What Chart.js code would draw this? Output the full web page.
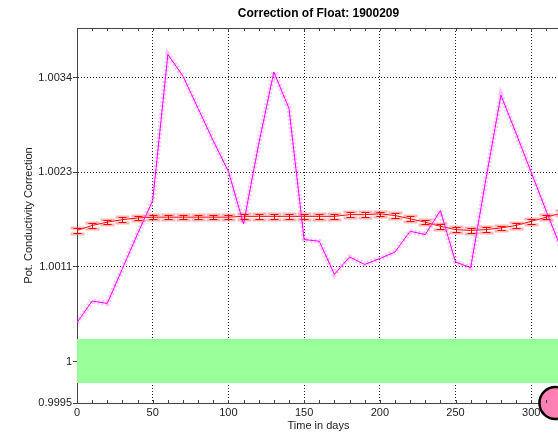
<!DOCTYPE html>
<html lang="en">
<head>
    <meta charset="UTF-8">
    <title>Correction of Float: 1900209</title>
    <script src="https://cdn.jsdelivr.net/npm/chart.js"></script>
    <style>
        html, body { margin: 0; padding: 0; background: #fff; overflow: hidden; }
        #chart { display: block; }
    </style>
</head>
<body>
    <canvas id="chart" width="560" height="435"></canvas>
    <script>
        // profile times (days since deployment)
        const days = [0, 10, 20, 30, 40, 50, 60, 70, 80, 90, 100, 110, 120, 130, 140, 150, 160,
                      170, 180, 190, 200, 210, 220, 230, 240, 250, 260, 270, 280, 290, 300, 310, 320];

        // magenta: correction per profile
        const potCorrection = [1.00047, 1.00073, 1.00070, 1.00112, 1.00154, 1.00194, 1.00370, 1.00344,
                               1.00305, 1.00266, 1.00229, 1.00166, 1.00262, 1.00349, 1.00305, 1.00147,
                               1.00145, 1.00105, 1.00126, 1.00117, 1.00124, 1.00132, 1.00157, 1.00153,
                               1.00182, 1.00120, 1.00113, 1.00219, 1.00321, 1.00275, 1.00228, 1.00181,
                               1.00135];

        // red: fitted correction with its error
        const fitCorrection = [1.00158, 1.00164, 1.00168, 1.00171, 1.00173, 1.00174, 1.00174, 1.00174,
                               1.00174, 1.00174, 1.00174, 1.00175, 1.00175, 1.00175, 1.00175, 1.00175,
                               1.00175, 1.00175, 1.00177, 1.00177, 1.00178, 1.00176, 1.00172, 1.00168,
                               1.00163, 1.00159, 1.00158, 1.00159, 1.00161, 1.00164, 1.00169, 1.00174,
                               1.00179];
        const fitError = [0.000028, 0.000028, 0.000028, 0.000028, 0.000028, 0.000028, 0.000028, 0.000028,
                          0.000028, 0.000028, 0.000028, 0.000028, 0.000028, 0.000028, 0.000028, 0.000028,
                          0.000028, 0.000028, 0.000028, 0.000028, 0.000028, 0.000028, 0.000028, 0.000028,
                          0.000028, 0.000028, 0.000028, 0.000028, 0.000028, 0.000028, 0.000028, 0.000028,
                          0.000028];

        // green band around 1
        const bandDays = [0, 319];
        const bandHigh = [1.00027, 1.00027];
        const bandLow = [0.99974, 0.99974];

        // big pink marker
        const markerDay = [316];
        const markerValue = [0.9995];

        // axes
        const xTicks = [0, 50, 100, 150, 200, 250, 300];
        const yTicks = [0.9995, 1, 1.00114, 1.00228, 1.00342];
        const yTickLabels = ['0.9995', '1', '1.0011', '1.0023', '1.0034'];

        const pts = (xs, ys) => xs.map((v, i) => ({ x: v, y: ys[i] }));

        Chart.defaults.font.family = '"Liberation Sans", Arial, sans-serif';
        Chart.defaults.font.size = 11;
        Chart.defaults.color = '#222';

        // error bars on the red curve
        const errorBars = {
            id: 'errorBars',
            afterDatasetsDraw(chart) {
                const { ctx, scales: { x, y } } = chart;
                ctx.save();
                days.forEach((d, i) => {
                    const px = Math.round(x.getPixelForValue(d)) + 0.5;
                    const top = Math.round(y.getPixelForValue(fitCorrection[i] + fitError[i])) + 0.5;
                    const bot = Math.round(y.getPixelForValue(fitCorrection[i] - fitError[i])) + 0.5;
                    ctx.fillStyle = 'rgba(255,90,90,0.45)';
                    ctx.fillRect(px - 7, top - 2, 14, 3);
                    ctx.fillRect(px - 7, bot - 1, 14, 3);
                    ctx.strokeStyle = '#ff0000';
                    ctx.lineWidth = 1;
                    ctx.beginPath();
                    ctx.moveTo(px, top); ctx.lineTo(px, bot);
                    ctx.moveTo(px - 4, top); ctx.lineTo(px + 4, top);
                    ctx.moveTo(px - 4, bot); ctx.lineTo(px + 4, bot);
                    ctx.stroke();
                });
                ctx.restore();
            }
        };

        // top border and inward x ticks (matlab look)
        const frame = {
            id: 'frame',
            afterDraw(chart) {
                const { ctx, chartArea: a, scales: { x } } = chart;
                ctx.save();
                ctx.strokeStyle = '#444';
                ctx.lineWidth = 1;
                ctx.beginPath();
                ctx.moveTo(a.left, a.top + 0.5);
                ctx.lineTo(a.right, a.top + 0.5);
                for (let d = 10; d <= x.max; d += 10) {
                    const px = Math.round(x.getPixelForValue(d)) + 0.5;
                    ctx.moveTo(px, a.bottom); ctx.lineTo(px, a.bottom - 3);
                    ctx.moveTo(px, a.top); ctx.lineTo(px, a.top + 3);
                }
                ctx.stroke();
                ctx.restore();
            }
        };

        new Chart(document.getElementById('chart'), {
            type: 'line',
            data: {
                datasets: [
                    {
                        type: 'scatter',
                        data: pts(markerDay, markerValue),
                        pointRadius: 16,
                        pointBackgroundColor: '#ff80b4',
                        pointBorderColor: '#000',
                        pointBorderWidth: 2.5,
                        clip: false
                    },
                    {
                        data: pts(days, potCorrection),
                        borderColor: '#ff00ff',
                        borderWidth: 1,
                        pointRadius: 0,
                        tension: 0
                    },
                    {
                        data: pts(days, potCorrection),
                        borderColor: 'rgba(255,120,255,0.45)',
                        borderWidth: 5,
                        borderDash: [2, 2],
                        pointRadius: 0,
                        tension: 0
                    },
                    {
                        data: pts(days, fitCorrection),
                        borderColor: '#ff0000',
                        borderWidth: 1,
                        pointRadius: 0,
                        tension: 0
                    },
                    {
                        data: pts(bandDays, bandHigh),
                        borderWidth: 0,
                        pointRadius: 0,
                        backgroundColor: '#99ff99',
                        fill: '+1'
                    },
                    {
                        data: pts(bandDays, bandLow),
                        borderWidth: 0,
                        pointRadius: 0
                    }
                ]
            },
            options: {
                responsive: false,
                animation: false,
                devicePixelRatio: 1,
                layout: { padding: 0, autoPadding: false },
                plugins: {
                    legend: { display: false },
                    tooltip: { enabled: false },
                    title: {
                        display: true,
                        text: 'Correction of Float: 1900209',
                        fullSize: false,
                        color: '#000',
                        font: { size: 12, weight: 'bold' },
                        padding: { top: 6, bottom: 7.6 }
                    }
                },
                scales: {
                    x: {
                        type: 'linear',
                        min: 0,
                        max: 319,
                        z: 1,
                        afterBuildTicks: s => { s.ticks = xTicks.map(v => ({ value: v })); },
                        afterFit: s => { s.height = 32; s.paddingLeft = 0; s.paddingRight = 0; },
                        ticks: { padding: 3, maxRotation: 0 },
                        grid: { color: '#222', drawTicks: false },
                        border: { color: '#444', width: 1, dash: [1, 2] },
                        title: { display: true, text: 'Time in days', padding: { top: 0, bottom: 2 } }
                    },
                    y: {
                        type: 'linear',
                        min: 0.9995,
                        max: 1.00402,
                        z: 1,
                        afterBuildTicks: s => { s.ticks = yTicks.map(v => ({ value: v })); },
                        afterFit: s => { s.width = 77; s.paddingTop = 0; s.paddingBottom = 0; },
                        ticks: { padding: 1, callback: (v, i) => yTickLabels[i] },
                        grid: { color: '#222', tickLength: 4, tickColor: '#444', tickBorderDash: [4, 0] },
                        border: { color: '#444', width: 1, dash: [1, 2] },
                        title: { display: true, text: 'Pot. Conductivity Correction', padding: { top: 22, bottom: 0 } }
                    }
                }
            },
            plugins: [errorBars, frame]
        });
    </script>
</body>
</html>
